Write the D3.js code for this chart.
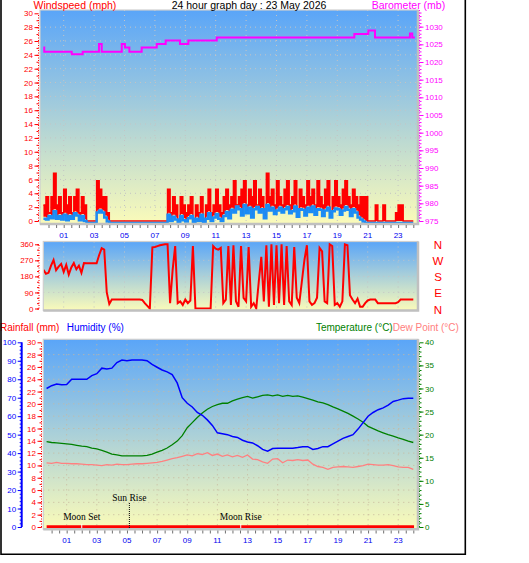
<!DOCTYPE html>
<html>
<head>
<meta charset="utf-8">
<title>24 hour graph</title>
<script src="https://d3js.org/d3.v7.min.js"></script>
<style>
  body { margin: 0; background: #ffffff; }
  svg text { font-family: "Liberation Sans", Arial, sans-serif; }
</style>
</head>
<body>
<div id="chart"></div>
<script>
// wind: 10 minute samples, first one at 23:40 the evening before
const windGust = [
  2.3, 3.5,
  1.2, 3.5, 6.9, 2.3, 3.5, 1.2,
  4.6, 2.3, 3.5, 1.2, 3.5, 4.6,
  1.2, 3.5, 2.3, 0, 0, 0,
  0, 5.8, 4.6, 3.5, 3.5, 1.2,
  0, 0, 0, 0, 0, 0,
  0, 0, 0, 0, 0, 0,
  0, 0, 0, 0, 0, 0,
  0, 0, 0, 0, 0, 4.6,
  1.2, 3.5, 2.3, 0, 3.5, 2.3,
  1.2, 2.3, 3.5, 0, 2.3, 1.2,
  3.5, 0, 2.3, 4.6, 1.2, 2.3,
  4.6, 2.3, 1.2, 3.5, 4.6, 2.3,
  3.5, 5.8, 2.3, 3.5, 4.6, 5.8,
  2.3, 4.6, 3.5, 5.8, 2.3, 4.6,
  3.5, 1.2, 6.9, 3.5, 4.6, 2.3,
  5.8, 3.5, 2.3, 4.6, 5.8, 2.3,
  3.5, 5.8, 1.2, 4.6, 3.5, 2.3,
  5.8, 3.5, 4.6, 2.3, 5.8, 3.5,
  2.3, 4.6, 5.8, 1.2, 3.5, 5.8,
  3.5, 2.3, 4.6, 5.8, 3.5, 2.3,
  4.6, 3.5, 2.3, 3.5, 3.5, 3.5,
  0, 0, 0, 2.3, 0, 0,
  2.3, 0, 0, 0, 0, 1.2,
  2.3, 2.3, 0, 0, 0, 0,
  0
];
const windAvg = [
  0.6, 0.5,
  1.0, 0.7, 1.7, 0.6, 1.0, 0.5,
  1.2, 0.4, 1.0, 0.6, 1.4, 1.1,
  0.4, 1.0, 0.3, 0, 0, 0,
  0, 1.5, 1.8, 1.5, 0.8, 0.2,
  0, 0, 0, 0, 0, 0,
  0, 0, 0, 0, 0, 0,
  0, 0, 0, 0, 0, 0,
  0, 0, 0, 0, 0, 1.2,
  0.3, 0.9, 0.5, 0, 1.0, 0.4,
  0.2, 0.7, 1.0, 0, 0.6, 0.3,
  1.2, 0, 0.6, 1.4, 0.3, 0.8,
  1.3, 0.6, 0.3, 1.0, 1.6, 0.7,
  1.9, 1.5, 2.4, 2.0, 1.1, 2.6,
  1.4, 2.2, 0.8, 2.0, 2.3, 1.5,
  2.0, 0.7, 2.6, 1.8, 2.2, 1.3,
  1.8, 2.2, 1.5, 2.0, 2.3, 1.4,
  1.7, 2.4, 0.9, 2.0, 1.9, 1.1,
  2.2, 1.6, 2.4, 1.2, 2.0, 1.9,
  1.0, 1.8, 2.2, 0.8, 1.7, 2.1,
  2.0, 1.2, 1.8, 2.3, 1.9, 1.0,
  2.0, 1.5, 0.8, 0.5, 0.2, 0,
  0, 0, 0, 0, 0, 0,
  0, 0, 0, 0, 0, 0,
  0, 0, 0, 0, 0, 0,
  0
];
const windDir = [
  217, 195,
  200, 240, 272, 215, 235, 250,
  205, 245, 190, 230, 255, 220,
  240, 200, 255, 254, 254, 254,
  254, 254, 300, 338, 330, 90,
  25, 50, 50, 50, 50, 50,
  50, 50, 50, 50, 50, 50,
  50, 48, 30, 15, 0, 343,
  345, 350, 355, 358, 360, 360,
  30, 217, 350, 30, 40, 20,
  50, 30, 45, 350, 0, 0,
  0, 0, 0, 0, 0, 350,
  335, 330, 340, 30, 50, 350,
  20, 355, 40, 10, 350, 60,
  40, 345, 10, 30, 0, 150,
  290, 40, 355, 10, 360, 20,
  355, 30, 360, 20, 350, 40,
  20, 345, 60, 30, 150, 270,
  355, 40, 20, 30, 60, 340,
  320, 40, 30, 360, 350, 20,
  30, 10, 40, 360, 355, 75,
  50, 30, 55, 10, 10, 30,
  45, 50, 50, 50, 30, 30,
  30, 30, 30, 30, 30, 30,
  35, 50, 50, 50, 50, 50,
  50
];

// barometer steps (hour of change, mb)
const baroHours = [-0.34, -0.28, 1.53, 2.25, 3.32, 3.5, 4.82, 5.03, 5.32, 6.13, 7.12, 7.71, 8.65, 9.2, 11.07, 20.12, 21.04, 21.48, 23.78, 23.93, 24.1];
const baroValues = [1024.1, 1022.9, 1022.2, 1022.9, 1025.1, 1022.9, 1025.1, 1024.1, 1022.9, 1024.1, 1025.1, 1026.1, 1025.1, 1026.1, 1026.9, 1027.9, 1028.9, 1026.9, 1028.1, 1026.9, 1026.9];

// 20 minute samples, first one at 23:40
const humidity = [
  75, 76.5, 77.4, 77, 77.2, 80, 80, 80, 80, 82,
  83, 86, 85.5, 86, 89, 90.4, 90, 90.4, 90.4, 90.4,
  90, 88, 86.5, 85, 84, 82.5, 78, 70, 67, 65,
  62, 60.5, 58, 55, 51, 50.5, 50, 49, 48.5, 47,
  46, 45.5, 44, 42, 41, 42.5, 42.6, 42.6, 42.6, 42.6,
  43, 43.5, 43.5, 42, 42.5, 43.5, 43.5, 45, 46.5, 48,
  49, 50, 53, 56.5, 60, 62, 63.5, 64.5, 66, 68,
  68.7, 69.5, 69.7, 69.7
];
const temperature = [
  18.5, 18.3, 18.2, 18.1, 18.0, 17.9, 17.7, 17.5, 17.4, 17.1,
  16.9, 16.6, 16.2, 15.8, 15.6, 15.4, 15.4, 15.4, 15.4, 15.4,
  15.5, 15.8, 16.2, 16.6, 17.1, 17.8, 18.6, 19.8, 21.5, 22.6,
  23.7, 24.7, 25.5, 26.1, 26.5, 26.8, 26.8, 27.3, 27.7, 28.0,
  28.3, 27.9, 28.2, 28.5, 28.6, 28.4, 28.6, 28.3, 28.5, 28.3,
  28.4, 28.1, 27.8, 27.5, 27.1, 26.9, 26.5, 26.0, 25.6, 25.1,
  24.6, 24.0, 23.4, 22.7, 21.8, 21.3, 20.8, 20.4, 20.0, 19.7,
  19.3, 19.0, 18.6, 18.3
];
const dewPoint = [
  13.9, 13.8, 14.0, 13.8, 13.8, 13.7, 13.7, 13.6, 13.5, 13.5,
  13.4, 13.3, 13.5, 13.4, 13.6, 13.5, 13.5, 13.6, 13.7, 13.7,
  13.8, 13.9, 14.0, 14.2, 14.5, 14.8, 15.0, 15.3, 15.6, 15.4,
  15.9, 15.7, 16.1, 15.5, 15.8, 15.3, 15.6, 15.2, 15.5, 15.1,
  15.6, 14.7, 14.6, 14.1, 13.8, 14.7, 14.8, 13.9, 14.5, 14.4,
  14.6, 14.4, 14.5, 13.6, 13.1, 12.9, 12.5, 12.9, 13.0, 13.1,
  13.0, 12.9, 13.1, 13.3, 13.6, 13.5, 13.4, 13.4, 13.5, 13.3,
  13.0, 12.9, 12.9, 12.5
];
const rainHours = [-0.33, 24.05];
const rainValues = [0, 0];

const almanacLabels = ["Moon Set", "Sun Rise", "Moon Rise"];
const almanacHours = [2.0, 5.16, 12.55];

// tick labels
const hourTicks = [1, 3, 5, 7, 9, 11, 13, 15, 17, 19, 21, 23];
const windTicks = [0, 2, 4, 6, 8, 10, 12, 14, 16, 18, 20, 22, 24, 26, 28, 30];
const baroTicks = [975, 980, 985, 990, 995, 1000, 1005, 1010, 1015, 1020, 1025, 1030];
const dirTicks = [0, 90, 180, 270, 360];
const compassLabels = ["N", "E", "S", "W", "N"];
const humTicks = [0, 10, 20, 30, 40, 50, 60, 70, 80, 90, 100];
const rainTicks = [0, 2, 4, 6, 8, 10, 12, 14, 16, 18, 20, 22, 24, 26, 28, 30];
const tempTicks = [0, 5, 10, 15, 20, 25, 30, 35, 40];

const windTimes = windGust.map((_, i) => -1 / 3 + i / 6);
const thermoTimes = humidity.map((_, i) => -1 / 3 + i / 3);

const svg = d3
  .select("#chart")
  .append("svg")
  .attr("width", 529)
  .attr("height", 563);

const defs = svg.append("defs");
const sky = defs
  .append("linearGradient")
  .attr("id", "sky")
  .attr("x1", 0)
  .attr("y1", 0)
  .attr("x2", 0)
  .attr("y2", 1);
sky.append("stop").attr("offset", "0%").attr("stop-color", "#5aa5f8");
sky.append("stop").attr("offset", "100%").attr("stop-color", "#fbfbb9");

const panels = {
  wind: { x: 40, y: 10, w: 378, h: 214 },
  dir: { x: 43.3, y: 241.5, w: 374.7, h: 69 },
  thermo: { x: 43.3, y: 339.3, w: 374.7, h: 190 },
};

Object.entries(panels).forEach(([name, p]) => {
  defs
    .append("clipPath")
    .attr("id", "clip-" + name)
    .append("rect")
    .attr("x", p.x)
    .attr("y", p.y)
    .attr("width", p.w)
    .attr("height", p.h);
  svg
    .append("rect")
    .attr("x", p.x)
    .attr("y", p.y)
    .attr("width", p.w)
    .attr("height", p.h)
    .attr("fill", "url(#sky)");
});

const xTop = d3.scaleLinear().domain([0, 24]).range([48.5, 413.3]);
const xBot = d3.scaleLinear().domain([0, 24]).range([51.6, 413.3]);
const yWind = d3.scaleLinear().domain([0, 30]).range([221, 13.3]);
const yBaro = d3.scaleLinear().domain([975, 1035]).range([221, 9]);
const yDir = d3.scaleLinear().domain([0, 360]).range([308.5, 244.3]);
const yHum = d3.scaleLinear().domain([0, 100]).range([527, 342.3]);
const yRain = d3.scaleLinear().domain([0, 30]).range([527, 342.3]);
const yTemp = d3.scaleLinear().domain([0, 40]).range([527, 342.3]);

// dotted grid
function grid(p, xs, ys, yVals, color) {
  const g = svg.append("g").attr("stroke", color).attr("stroke-dasharray", "1,4");
  g.selectAll(".gv")
    .data(hourTicks)
    .enter()
    .append("line")
    .attr("x1", (d) => xs(d))
    .attr("x2", (d) => xs(d))
    .attr("y1", p.y)
    .attr("y2", p.y + p.h);
  g.selectAll(".gh")
    .data(yVals)
    .enter()
    .append("line")
    .attr("x1", p.x)
    .attr("x2", p.x + p.w)
    .attr("y1", (d) => ys(d))
    .attr("y2", (d) => ys(d));
}
grid(panels.wind, xTop, yWind, windTicks.slice(1, -1), "#c4c4c4");
grid(panels.dir, xTop, yDir, dirTicks.slice(1, -1), "#c4c4c4");
grid(panels.thermo, xBot, yRain, rainTicks.slice(1, -1), "#c9b79c");

// wind: gust band filled down to the average, average drawn on top
const windLayer = svg.append("g").attr("clip-path", "url(#clip-wind)");
const windLine = (vals) =>
  d3
    .line()
    .x((d, i) => xTop(windTimes[i]))
    .y((d) => yWind(d))
    .curve(d3.curveStepAfter)(vals);

windLayer
  .append("path")
  .attr(
    "d",
    d3
      .area()
      .x((d, i) => xTop(windTimes[i]))
      .y0((d, i) => yWind(windAvg[i]))
      .y1((d) => yWind(d))
      .curve(d3.curveStepAfter)(windGust)
  )
  .attr("fill", "#ff0000");
windLayer
  .append("path")
  .attr("d", windLine(windGust))
  .attr("fill", "none")
  .attr("stroke", "#ff0000")
  .attr("stroke-width", 1.5);
windLayer
  .append("path")
  .attr("d", windLine(windAvg))
  .attr("transform", "translate(0,2)")
  .attr("fill", "none")
  .attr("stroke", "#1b8cf5")
  .attr("stroke-width", 2.5);
windLayer
  .append("path")
  .attr(
    "d",
    d3
      .line()
      .x((d, i) => xTop(baroHours[i]))
      .y((d) => yBaro(d))
      .curve(d3.curveStepAfter)(baroValues)
  )
  .attr("fill", "none")
  .attr("stroke", "#ff00ff")
  .attr("stroke-width", 2);

// wind direction
svg
  .append("g")
  .attr("clip-path", "url(#clip-dir)")
  .append("path")
  .attr(
    "d",
    d3
      .line()
      .x((d, i) => xTop(windTimes[i]))
      .y((d) => yDir(d))(windDir)
  )
  .attr("fill", "none")
  .attr("stroke", "#ff0000")
  .attr("stroke-width", 2);

// humidity, temperature, dew point, rain
const thermoLayer = svg.append("g").attr("clip-path", "url(#clip-thermo)");
const thermoLine = (vals, ys) =>
  d3
    .line()
    .x((d, i) => xBot(thermoTimes[i]))
    .y((d) => ys(d))(vals);

thermoLayer
  .append("path")
  .attr("d", thermoLine(dewPoint, yTemp))
  .attr("fill", "none")
  .attr("stroke", "#ff8080")
  .attr("stroke-width", 1.3);
thermoLayer
  .append("path")
  .attr("d", thermoLine(temperature, yTemp))
  .attr("fill", "none")
  .attr("stroke", "#008000")
  .attr("stroke-width", 1.3);
thermoLayer
  .append("path")
  .attr("d", thermoLine(humidity, yHum))
  .attr("fill", "none")
  .attr("stroke", "#0000ff")
  .attr("stroke-width", 1.5);
thermoLayer
  .append("path")
  .attr(
    "d",
    d3
      .line()
      .x((d, i) => xBot(rainHours[i]))
      .y((d) => yRain(d))(rainValues)
  )
  .attr("fill", "none")
  .attr("stroke", "#ff0000")
  .attr("stroke-width", 3.5);

// sun and moon marks
almanacLabels.forEach((label, i) => {
  const x = xBot(almanacHours[i]);
  const isSun = label.startsWith("Sun");
  svg
    .append("line")
    .attr("x1", x)
    .attr("x2", x)
    .attr("y1", isSun ? 503 : 524)
    .attr("y2", 529)
    .attr("stroke", isSun ? "#000" : "#fff")
    .attr("stroke-dasharray", isSun ? "1,1" : null)
    .attr("stroke-width", 1);
  svg
    .append("text")
    .attr("x", x)
    .attr("y", isSun ? 501 : 520)
    .attr("text-anchor", "middle")
    .style("font-family", '"Liberation Serif", "Times New Roman", serif')
    .style("font-size", "9.5px")
    .attr("fill", "#000")
    .text(label);
});

// panel borders
Object.values(panels).forEach((p) => {
  svg
    .append("rect")
    .attr("x", p.x)
    .attr("y", p.y)
    .attr("width", p.w)
    .attr("height", p.h)
    .attr("fill", "none")
    .attr("stroke", "#cfcfcf")
    .attr("stroke-width", 1.2);
  svg
    .append("path")
    .attr("d", `M${p.x},${p.y + p.h}H${p.x + p.w}V${p.y}`)
    .attr("fill", "none")
    .attr("stroke", "#c0c0c0")
    .attr("stroke-width", 2.5);
});

// value axes
function valueAxis(axisFn, scale, x, values, minor, color, dotted) {
  const g = svg
    .append("g")
    .attr("transform", `translate(${x},0)`)
    .call(axisFn(scale).tickValues(values).tickSize(4).tickPadding(1.5).tickFormat(d3.format("d")));
  g.select(".domain").remove();
  g.selectAll("line").attr("stroke", color);
  g.selectAll("text").attr("fill", color).style("font-size", "8px");
  if (minor) {
    const m = svg
      .append("g")
      .attr("transform", `translate(${x},0)`)
      .call(axisFn(scale).tickValues(minor).tickSize(2).tickFormat(""));
    m.select(".domain").remove();
    m.selectAll("line").attr("stroke", color);
  }
  svg
    .append("line")
    .attr("x1", x)
    .attr("x2", x)
    .attr("y1", scale.range()[0])
    .attr("y2", scale.range()[1])
    .attr("stroke", color)
    .attr("stroke-width", dotted ? 1 : 2)
    .attr("stroke-dasharray", dotted ? "1,1.5" : null);
}

valueAxis(d3.axisLeft, yWind, 38.5, windTicks, d3.range(0, 30, 1), "#ff0000", true);
valueAxis(d3.axisRight, yBaro, 419.5, baroTicks, d3.range(975, 1035, 1), "#ff00ff", true);
valueAxis(d3.axisLeft, yDir, 39, dirTicks, d3.range(0, 361, 30), "#ff0000", true);
valueAxis(d3.axisLeft, yHum, 21.7, humTicks, d3.range(0, 100, 2), "#0000ff", false);
valueAxis(d3.axisLeft, yRain, 41.5, rainTicks, d3.range(0, 30, 1), "#ff0000", true);
valueAxis(d3.axisRight, yTemp, 419.5, tempTicks, d3.range(0, 40, 1), "#008000", true);

// compass letters
svg
  .selectAll(".compass")
  .data(compassLabels)
  .enter()
  .append("text")
  .attr("x", 438)
  .attr("y", (d, i) => yDir(dirTicks[i]) + 5)
  .attr("text-anchor", "middle")
  .attr("fill", "#ff0000")
  .style("font-size", "11.5px")
  .text((d) => d);

// hour axes
function hourAxis(xs, yTick, yLabel) {
  const g = svg
    .append("g")
    .attr("transform", `translate(0,${yTick})`)
    .call(d3.axisBottom(xs).tickValues(d3.range(0, 24.5, 0.5)).tickSize(3).tickFormat(""));
  g.select(".domain").remove();
  g.selectAll("line").attr("stroke", "#707070");
  svg
    .append("g")
    .selectAll("text")
    .data(hourTicks)
    .enter()
    .append("text")
    .attr("x", (d) => xs(d))
    .attr("y", yLabel)
    .attr("text-anchor", "middle")
    .attr("fill", "#0000ee")
    .style("font-size", "8px")
    .text(d3.format("02d"));
}
hourAxis(xTop, 225, 238.3);
hourAxis(xBot, 530.5, 543.3);

// titles
const title = (x, y, color, size, str, anchor) =>
  svg
    .append("text")
    .attr("x", x)
    .attr("y", y)
    .attr("fill", color)
    .attr("text-anchor", anchor || "start")
    .style("font-size", size)
    .text(str);

title(33.5, 9, "#ff0000", "10.5px", "Windspeed (mph)");
title(171.7, 9, "#000000", "10.5px", "24 hour graph day : 23 May 2026");
title(371.7, 9, "#ff00ff", "10.5px", "Barometer (mb)");
title(0, 331, "#ff0000", "10px", "Rainfall (mm)");
title(66.7, 331, "#0000ff", "10px", "Humidity (%)");
title(392.7, 331, "#008000", "10px", "Temperature (°C)", "end");
title(392.7, 331, "#ff8080", "10px", "Dew Point (°C)");

// outer frame
svg
  .append("path")
  .attr("d", "M1,0V554.3H465.3V0")
  .attr("fill", "none")
  .attr("stroke", "#000")
  .attr("stroke-width", 1.6);
</script>
</body>
</html>
